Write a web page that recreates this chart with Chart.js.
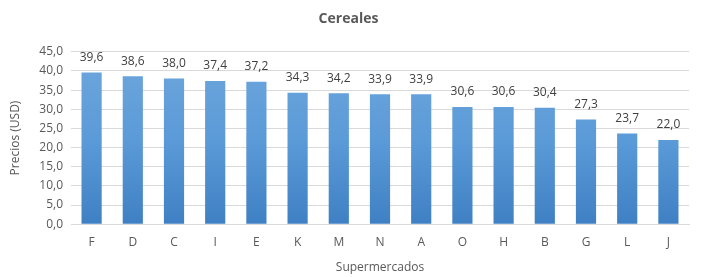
<!DOCTYPE html>
<html>
<head>
<meta charset="utf-8">
<script src="https://cdn.jsdelivr.net/npm/chart.js@4/dist/chart.umd.min.js"></script>
<style>
  html, body { margin: 0; padding: 0; background: #fff; }
  #wrap { width: 704px; height: 277px; }
</style>
</head>
<body>
<div id="wrap"><canvas id="myChart"></canvas></div>
<script>
// supermercados y precios (USD)
const supermercados = ['F', 'D', 'C', 'I', 'E', 'K', 'M', 'N', 'A', 'O', 'H', 'B', 'G', 'L', 'J'];
const precios = [39.6, 38.6, 38.0, 37.4, 37.2, 34.3, 34.2, 33.9, 33.9, 30.6, 30.6, 30.4, 27.3, 23.7, 22.0];

const fmt = v => v.toFixed(1).replace('.', ',');
const FONT = "'Open Sans', 'DejaVu Sans', sans-serif";

// etiquetas encima de cada barra
const etiquetas = {
    id: 'etiquetas',
    afterDatasetsDraw(chart) {
        const ctx = chart.ctx;
        const meta = chart.getDatasetMeta(0);
        ctx.save();
        ctx.font = '12px ' + FONT;
        ctx.fillStyle = '#404040';
        ctx.textAlign = 'center';
        ctx.textBaseline = 'bottom';
        meta.data.forEach((bar, i) => {
            ctx.fillText(fmt(precios[i]), bar.x, bar.y - 9);
        });
        ctx.restore();
    }
};

// degradado de las barras
function gradiente(context) {
    const chart = context.chart;
    const area = chart.chartArea;
    if (!area) return '#5b9bd5';
    const g = chart.ctx.createLinearGradient(0, area.top, 0, area.bottom);
    g.addColorStop(0, '#6fa6dc');
    g.addColorStop(0.5, '#5b9bd8');
    g.addColorStop(1, '#3f80c4');
    return g;
}

const ctx = document.getElementById('myChart').getContext('2d');
const myChart = new Chart(ctx, {
    type: 'bar',
    data: {
        labels: supermercados,
        datasets: [{
            data: precios,
            backgroundColor: gradiente,
            borderWidth: 0,
            categoryPercentage: 1,
            barPercentage: 0.49
        }]
    },
    options: {
        responsive: true,
        maintainAspectRatio: false,
        animation: false,
        layout: { padding: { left: 8, right: 15, top: 4, bottom: 2 } },
        plugins: {
            legend: { display: false },
            tooltip: { enabled: false },
            title: {
                display: true,
                text: 'Cereales',
                color: '#595959',
                font: { family: FONT, size: 14, weight: 'bold' },
                padding: { top: 7, bottom: 24 }
            }
        },
        scales: {
            x: {
                grid: { display: false, drawTicks: false },
                border: { color: '#d9d9d9' },
                ticks: { color: '#595959', font: { family: FONT, size: 12 }, padding: 11 },
                title: {
                    display: true,
                    text: 'Supermercados',
                    color: '#595959',
                    font: { family: FONT, size: 12 },
                    padding: { top: 0, bottom: 0 }
                }
            },
            y: {
                min: 0,
                max: 45,
                ticks: {
                    stepSize: 5,
                    color: '#595959',
                    font: { family: FONT, size: 12 },
                    padding: 8,
                    callback: v => fmt(v)
                },
                grid: { color: '#d9d9d9', drawTicks: false },
                border: { display: false },
                title: {
                    display: true,
                    text: 'Precios (USD)',
                    color: '#595959',
                    font: { family: FONT, size: 12 },
                    padding: { top: 0, bottom: 4 }
                },
                afterFit(scale) { scale.width = 63; }
            }
        }
    },
    plugins: [etiquetas]
});
</script>
</body>
</html>
